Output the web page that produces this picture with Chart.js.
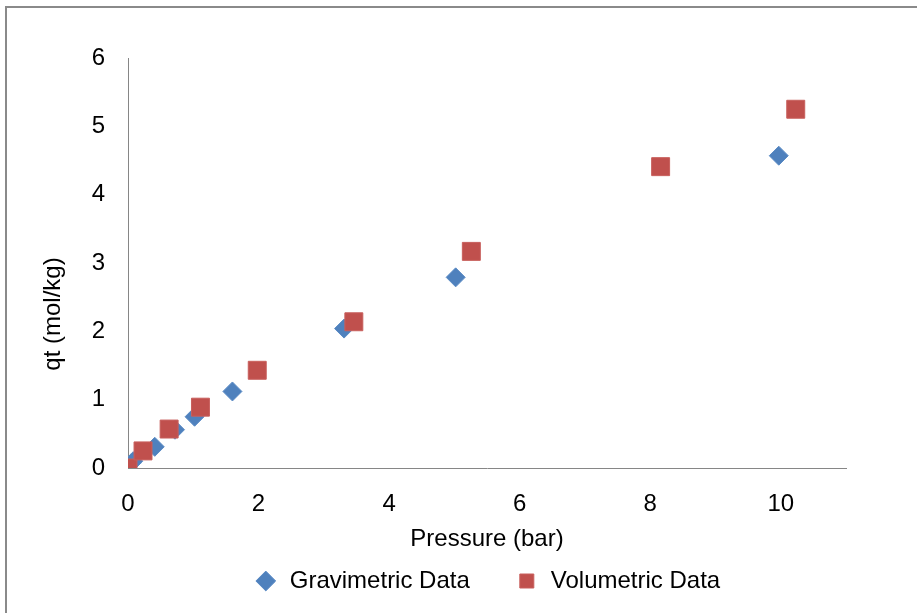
<!DOCTYPE html>
<html>
<head>
<meta charset="utf-8">
<script src="https://cdn.jsdelivr.net/npm/chart.js@4"></script>
<style>
    html, body { margin: 0; padding: 0; background: #fff; }
    #frame {
        position: absolute; left: 5px; top: 6px;
        width: 930px; height: 630px;
        border-left: 2px solid #8a8a8a; border-top: 2px solid #8a8a8a;
    }
    #wrap { position: absolute; left: 0; top: 0; width: 917px; height: 613px; }
</style>
</head>
<body>
<div id="frame"></div>
<div id="wrap"><canvas id="isotherm" width="917" height="613"></canvas></div>
<script>
// Gravimetric uptake (blue diamonds)
const gravPressure = [0.05, 0.08, 0.41, 0.72, 1.02, 1.60, 3.31, 5.02, 9.97];
const gravUptake   = [0.07, 0.10, 0.31, 0.56, 0.75, 1.12, 2.04, 2.79, 4.57];

// Volumetric uptake (red squares)
const volPressure = [0.00, 0.23, 0.63, 1.11, 1.98, 3.46, 5.26, 8.16, 10.23];
const volUptake   = [0.00, 0.25, 0.57, 0.89, 1.43, 2.14, 3.17, 4.41, 5.25];

const seriesNames = ['Gravimetric Data', 'Volumetric Data'];
const xTitle = 'Pressure (bar)';
const yTitle = 'qt (mol/kg)';

const FONT = { family: '"Liberation Sans", Arial, sans-serif', size: 24 };
const AXIS_GREY = '#868686';

function toPoints(xs, ys) {
    return xs.map((x, i) => ({ x: x, y: ys[i] }));
}

// y title sits lower than the axis middle, so it is drawn by hand
const yTitlePlugin = {
    id: 'yTitle',
    afterDraw(chart) {
        const c = chart.ctx;
        c.save();
        c.translate(53, chart.chartArea.bottom - 154);
        c.rotate(-Math.PI / 2);
        c.font = FONT.size + 'px ' + FONT.family;
        c.fillStyle = '#000';
        c.textAlign = 'center';
        c.textBaseline = 'middle';
        c.fillText(yTitle, 0, 0);
        c.restore();
    }
};

const ctx = document.getElementById('isotherm').getContext('2d');
new Chart(ctx, {
    type: 'scatter',
    data: {
        datasets: [
            {
                label: seriesNames[0],
                data: toPoints(gravPressure, gravUptake),
                pointStyle: 'rectRot',
                pointRadius: 9.5,
                pointHoverRadius: 9.5,
                backgroundColor: '#4F81BD',
                borderColor: '#5a8ac4',
                borderWidth: 1,
                order: 1
            },
            {
                label: seriesNames[1],
                data: toPoints(volPressure, volUptake),
                pointStyle: 'rect',
                pointRadius: 12.7,
                pointHoverRadius: 12.7,
                backgroundColor: '#C0504D',
                borderColor: '#c85f5c',
                borderWidth: 1,
                order: 0
            }
        ]
    },
    plugins: [yTitlePlugin],
    options: {
        responsive: false,
        animation: false,
        layout: { padding: { left: 0, top: 58, right: 71, bottom: 10 } },
        plugins: {
            tooltip: { enabled: false },
            legend: {
                position: 'bottom',
                fullSize: false,
                labels: {
                    usePointStyle: true,
                    boxHeight: 14,
                    padding: 45,
                    color: '#000',
                    font: FONT,
                    sort: (a, b) => a.datasetIndex - b.datasetIndex
                }
            }
        },
        scales: {
            x: {
                type: 'linear',
                min: 0,
                max: 11,
                afterFit: (scale) => { scale.height = 56; },
                grid: { display: false, drawTicks: false },
                border: { display: true, color: AXIS_GREY, width: 1 },
                ticks: {
                    stepSize: 2,
                    includeBounds: false,
                    padding: 22,
                    color: '#000',
                    font: FONT
                },
                title: {
                    display: true,
                    text: xTitle,
                    color: '#000',
                    font: FONT,
                    padding: { top: 0, bottom: -30 }
                }
            },
            y: {
                type: 'linear',
                min: 0,
                max: 6,
                afterFit: (scale) => { scale.width = 128; },
                grid: { display: false, drawTicks: false },
                border: { display: true, color: AXIS_GREY, width: 1 },
                ticks: {
                    stepSize: 1,
                    padding: 23,
                    color: '#000',
                    font: FONT
                }
            }
        }
    }
});
</script>
</body>
</html>
